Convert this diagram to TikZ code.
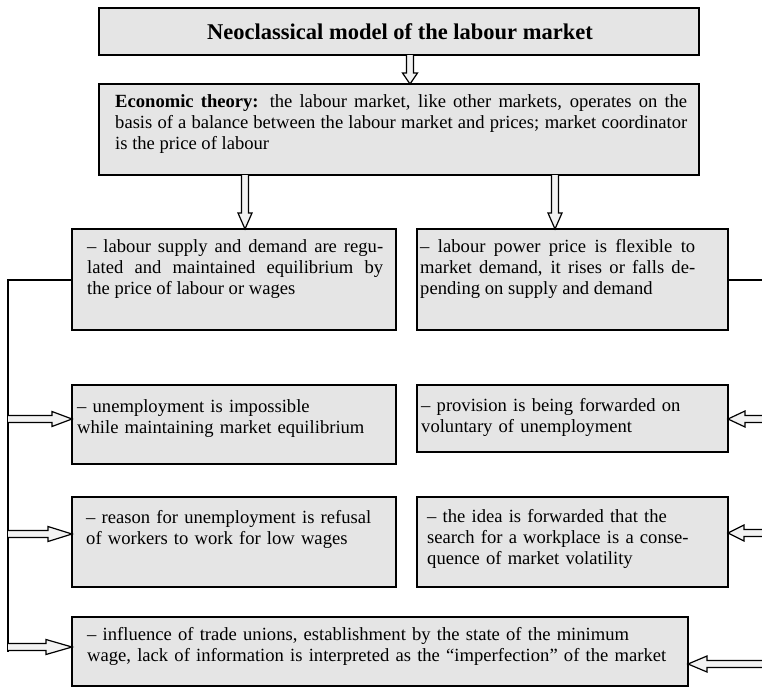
\documentclass[tikz,border=0pt]{standalone}
\usepackage{fontspec}
\setmainfont{Liberation Serif}
\usetikzlibrary{calc}
\definecolor{boxfill}{gray}{0.9}
\definecolor{arrowfill}{gray}{0.95}

% Hollow block arrow from #1 to the tip #2; #3 = head length, #4 = half width of the head
\newcommand\hollowarrow[4]{%
  \path (#1) coordinate (ha-s) (#2) coordinate (ha-t)
        ($(ha-t)!#3!(ha-s)$) coordinate (ha-b);
  \draw[arrowoutline]
    ($(ha-s)!3.5pt!90:(ha-t)$) -- ($(ha-b)!3.5pt!90:(ha-t)$) --
    ($(ha-b)!#4!90:(ha-t)$) -- (ha-t) -- ($(ha-b)!#4!-90:(ha-t)$) --
    ($(ha-b)!3.5pt!-90:(ha-t)$) -- ($(ha-s)!3.5pt!-90:(ha-t)$);
}

\begin{document}
\begin{tikzpicture}[x=1pt,y=-1pt,
  box/.style={draw=black, line width=1.6pt, fill=boxfill, inner sep=0pt,
              outer sep=0pt, anchor=north west},
  body/.style={anchor=base west, inner sep=0pt, text width=#1, align=left,
               font=\fontsize{18.6}{21}\selectfont},
  bodyjust/.style={body=#1, align=justify},
  link/.style={line width=2pt},
  arrowoutline/.style={draw=black, line width=1.2pt, fill=arrowfill, line join=miter}]

\useasboundingbox (0,0) rectangle (762,688);

% boxes
\node[box, minimum width=600pt, minimum height=47pt]  (title) at (99,8)   {};
\node[box, minimum width=600pt, minimum height=91pt]  (econ)  at (99,84)  {};
\node[box, minimum width=324pt, minimum height=101pt] (l1)    at (72,229) {};
\node[box, minimum width=311pt, minimum height=101pt] (r1)    at (417,229) {};
\node[box, minimum width=324pt, minimum height=79pt]  (l2)    at (72,385) {};
\node[box, minimum width=311pt, minimum height=67pt]  (r2)    at (417,385) {};
\node[box, minimum width=324pt, minimum height=90pt]  (l3)    at (72,497) {};
\node[box, minimum width=311pt, minimum height=90pt]  (r3)    at (417,497) {};
\node[box, minimum width=616pt, minimum height=69pt]  (wage)  at (72,617) {};

% texts
\node[anchor=base, inner sep=0pt, font=\bfseries\fontsize{22.5}{27}\selectfont]
  (title-t) at (400,39) {Neoclassical model of the labour market};
\node[bodyjust=572pt] (econ-t) at (115,107)
  {\textbf{Economic theory:} the labour market, like other markets, operates on the\linebreak
   basis of a balance between the labour market and prices; market coordinator\linebreak
   is the price of labour};
\node[bodyjust=296pt] (l1-t) at (87,252)
  {– labour supply and demand are regu-\linebreak
   lated and maintained equilibrium by\linebreak
   the price of labour or wages};
\node[bodyjust=275pt] (r1-t) at (420,252)
  {– labour power price is flexible to\linebreak
   market demand, it rises or falls de-\linebreak
   pending on supply and demand};
\node[body=320pt] (l2-t) at (77,412)
  {– unemployment is impossible\\ while maintaining market equilibrium};
\node[body=300pt] (r2-t) at (421,411)
  {– provision is being forwarded on\\ voluntary of unemployment};
\node[body=320pt] (l3-t) at (86,523)
  {– reason for unemployment is refusal\\ of workers to work for low wages};
\node[body=300pt] (r3-t) at (427,522)
  {– the idea is forwarded that the\\ search for a workplace is a conse-\\ quence of market volatility};
\node[body=600pt] (wage-t) at (87,640)
  {– influence of trade unions, establishment by the state of the minimum\\
   wage, lack of information is interpreted as the “imperfection” of the market};

% bus lines on both sides
\coordinate (lbus) at (8,652);
\coordinate (rbus) at (772,664);
\draw[link] (l1.west) -| (lbus);
\draw[link] (r1.east) -| (rbus);

% downward arrows
\coordinate (d-t) at (410,0);
\coordinate (d-l) at (245,0);
\coordinate (d-r) at (555,0);
\hollowarrow{title.south -| d-t}{econ.north -| d-t}{11pt}{7.5pt}
\hollowarrow{econ.south -| d-l}{l1.north -| d-l}{16pt}{7pt}
\hollowarrow{econ.south -| d-r}{r1.north -| d-r}{16pt}{7pt}

% arrows from the left bus
\coordinate (a-l2) at (8,419);
\coordinate (a-l3) at (8,534);
\coordinate (a-lw) at (8,647);
\hollowarrow{a-l2}{l2.west |- a-l2}{20pt}{7.5pt}
\hollowarrow{a-l3}{l3.west |- a-l3}{24pt}{7.5pt}
\hollowarrow{a-lw}{wage.west |- a-lw}{26pt}{7.5pt}

% arrows from the right bus
\coordinate (a-r2) at (772,419);
\coordinate (a-r3) at (772,533);
\hollowarrow{a-r2}{r2.east |- a-r2}{17pt}{8pt}
\hollowarrow{a-r3}{r3.east |- a-r3}{16pt}{8pt}
\hollowarrow{rbus}{wage.east |- rbus}{19pt}{8pt}

\end{tikzpicture}
\end{document}
